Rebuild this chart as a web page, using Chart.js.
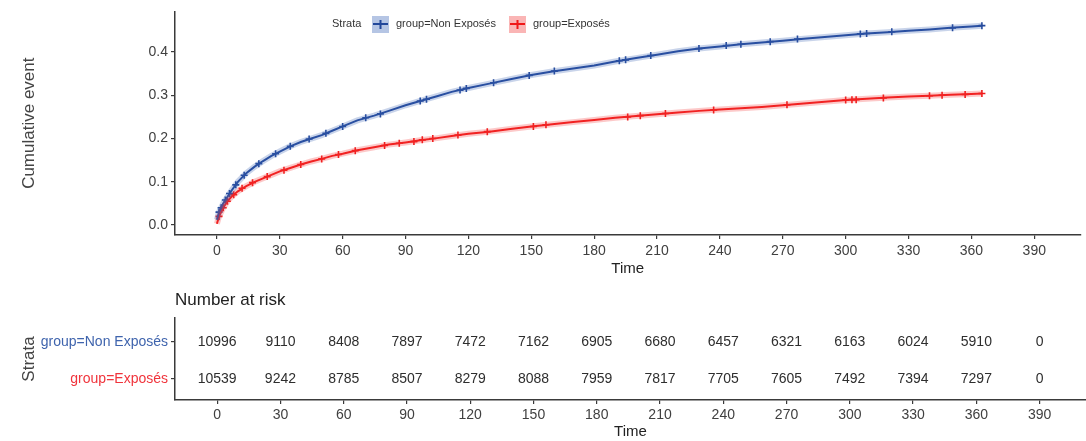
<!DOCTYPE html>
<html>
<head>
<meta charset="utf-8">
<script src="https://cdn.jsdelivr.net/npm/chart.js@4.4.1/dist/chart.umd.min.js"></script>
<style>
  html, body { margin: 0; padding: 0; background: #ffffff; }
  #wrap { position: relative; width: 1086px; height: 441px; overflow: hidden; }
  #c1 { position: absolute; left: 0; top: 0; }
  #c2 { position: absolute; left: 0; top: 280px; }
</style>
</head>
<body>
<div id="wrap">
  <canvas id="c1" width="1086" height="280"></canvas>
  <canvas id="c2" width="1086" height="161"></canvas>
</div>
<script>
// ---- data ----
const times = [0,1,2,3,5,7,10,14,18,22,26,30,35,40,45,50,55,60,67,75,82,90,97,105,112,120,130,140,150,160,170,180,190,200,210,220,230,240,250,260,270,280,290,300,310,320,330,340,350,360,365];
const nonExposes = [0.012,0.03,0.04,0.05,0.065,0.08,0.10,0.12,0.135,0.148,0.16,0.17,0.182,0.192,0.20,0.208,0.218,0.228,0.242,0.253,0.264,0.277,0.287,0.298,0.308,0.317,0.327,0.337,0.347,0.355,0.362,0.369,0.378,0.386,0.394,0.402,0.408,0.413,0.418,0.422,0.426,0.431,0.435,0.439,0.443,0.446,0.449,0.452,0.456,0.459,0.461];
const exposes = [0.003,0.02,0.03,0.04,0.055,0.066,0.078,0.09,0.10,0.108,0.116,0.124,0.132,0.14,0.147,0.153,0.16,0.165,0.173,0.18,0.186,0.191,0.196,0.201,0.206,0.211,0.216,0.222,0.228,0.233,0.238,0.243,0.248,0.252,0.256,0.26,0.264,0.267,0.27,0.273,0.277,0.281,0.285,0.289,0.292,0.295,0.297,0.299,0.301,0.303,0.304];

const censorTimesNon = [1,2,4,6,9,13,20,28,35,44,52,60,71,78,97,100,116,119,132,149,161,192,195,207,230,243,250,264,277,307,310,322,351,365];
const censorValsNon  = [0.03,0.04,0.058,0.073,0.093,0.115,0.142,0.165,0.182,0.199,0.212,0.228,0.248,0.257,0.287,0.291,0.312,0.316,0.329,0.346,0.356,0.380,0.382,0.392,0.408,0.415,0.418,0.424,0.430,0.442,0.443,0.447,0.456,0.461];
const censorTimesExp = [1,3,5,8,12,17,24,32,40,50,58,66,80,87,94,98,103,115,129,151,157,196,202,214,237,272,300,303,305,318,340,346,357,365];
const censorValsExp  = [0.02,0.04,0.055,0.07,0.085,0.098,0.112,0.127,0.14,0.153,0.163,0.172,0.184,0.189,0.193,0.197,0.2,0.208,0.216,0.228,0.232,0.25,0.253,0.258,0.266,0.278,0.289,0.29,0.29,0.294,0.299,0.3,0.302,0.304];

const xTicks = [0,30,60,90,120,150,180,210,240,270,300,330,360,390];
const yTicks = [0,0.1,0.2,0.3,0.4];

const riskTimes = [0,30,60,90,120,150,180,210,240,270,300,330,360,390];
const riskNon = [10996,9110,8408,7897,7472,7162,6905,6680,6457,6321,6163,6024,5910,0];
const riskExp = [10539,9242,8785,8507,8279,8088,7959,7817,7705,7605,7492,7394,7297,0];

const seriesNames = ['group=Non Exposés', 'group=Exposés'];

// ---- styles ----
const BLUE = '#22479a';
const RED = '#f01818';
const BLUE_BAND = 'rgba(60,100,180,0.28)';
const RED_BAND = 'rgba(245,60,60,0.28)';
const BLUE_TXT = '#3f64ad';
const RED_TXT = '#f0343c';
const AXIS = '#3a3a3a';
const TICKTXT = '#404040';
const FONT = "'Liberation Sans', Arial, sans-serif";

const pts = (xs, ys) => xs.map((x, i) => ({ x: x, y: ys[i] }));

const legendPlugin = {
  id: 'strataLegend',
  afterDraw(chart) {
    const ctx = chart.ctx;
    ctx.save();
    ctx.font = '11px ' + FONT;
    ctx.fillStyle = '#333333';
    ctx.textBaseline = 'middle';
    ctx.textAlign = 'left';
    const yc = 24;
    ctx.fillText('Strata', 332, yc);
    const items = [
      { x: 372, band: 'rgba(120,150,205,0.55)', line: BLUE, label: seriesNames[0] },
      { x: 509, band: 'rgba(245,120,120,0.55)', line: RED, label: seriesNames[1] }
    ];
    items.forEach(it => {
      ctx.fillStyle = it.band;
      ctx.fillRect(it.x, yc - 8, 17, 17);
      ctx.strokeStyle = it.line;
      ctx.lineWidth = 2;
      ctx.beginPath();
      ctx.moveTo(it.x + 1, yc); ctx.lineTo(it.x + 16, yc);
      ctx.moveTo(it.x + 8.5, yc - 4); ctx.lineTo(it.x + 8.5, yc + 5);
      ctx.stroke();
      ctx.fillStyle = '#333333';
      ctx.fillText(it.label, it.x + 24, yc);
    });
    ctx.restore();
  }
};

const axisGrid = { display: true, drawOnChartArea: false, drawTicks: true, tickLength: 4, color: AXIS, lineWidth: 1.2 };
const axisBorder = { display: true, color: AXIS, width: 1.5 };

new Chart(document.getElementById('c1'), {
  type: 'scatter',
  data: {
    datasets: [
      { label: 'bandNon', data: pts(times, nonExposes), showLine: true, borderColor: BLUE_BAND, borderWidth: 6, pointRadius: 0, tension: 0 },
      { label: 'bandExp', data: pts(times, exposes), showLine: true, borderColor: RED_BAND, borderWidth: 6, pointRadius: 0, tension: 0 },
      { label: seriesNames[0], data: pts(times, nonExposes), showLine: true, borderColor: BLUE, borderWidth: 2, pointRadius: 0, tension: 0 },
      { label: seriesNames[1], data: pts(times, exposes), showLine: true, borderColor: RED, borderWidth: 2, pointRadius: 0, tension: 0 },
      { label: 'censorNon', data: pts(censorTimesNon, censorValsNon), showLine: false, pointStyle: 'cross', pointRadius: 3.5, borderColor: BLUE, borderWidth: 1.6 },
      { label: 'censorExp', data: pts(censorTimesExp, censorValsExp), showLine: false, pointStyle: 'cross', pointRadius: 3.5, borderColor: RED, borderWidth: 1.6 }
    ]
  },
  options: {
    responsive: false,
    animation: false,
    layout: { padding: { top: 10, right: 0, left: 0, bottom: 0 } },
    plugins: { legend: { display: false }, tooltip: { enabled: false } },
    scales: {
      x: {
        type: 'linear', min: -20, max: 412,
        afterBuildTicks: s => { s.ticks = xTicks.map(v => ({ value: v })); },
        afterFit: s => { s.height = 45; },
        grid: axisGrid, border: axisBorder,
        ticks: { color: TICKTXT, font: { family: FONT, size: 14 }, padding: 4, maxRotation: 0, autoSkip: false },
        title: { display: true, text: 'Time', color: '#222222', font: { family: FONT, size: 15 }, padding: { top: 0, bottom: 2 } }
      },
      y: {
        type: 'linear', min: -0.023, max: 0.494,
        afterBuildTicks: s => { s.ticks = yTicks.map(v => ({ value: v })); },
        afterFit: s => { s.width = 175; },
        grid: axisGrid, border: axisBorder,
        ticks: { color: TICKTXT, font: { family: FONT, size: 14 }, padding: 3, callback: v => v.toFixed(1) },
        title: { display: true, text: 'Cumulative event', color: '#444444', font: { family: FONT, size: 17 }, padding: { top: 19, bottom: 0 } }
      }
    }
  },
  plugins: [legendPlugin]
});

const riskPlugin = {
  id: 'riskText',
  afterDraw(chart) {
    const ctx = chart.ctx;
    const xs = chart.scales.x, ys = chart.scales.y;
    ctx.save();
    ctx.font = '17px ' + FONT;
    ctx.fillStyle = '#222222';
    ctx.textAlign = 'left';
    ctx.textBaseline = 'middle';
    ctx.fillText('Number at risk', 175, 20);
    ctx.font = '14px ' + FONT;
    ctx.fillStyle = '#2e2e2e';
    ctx.textAlign = 'center';
    chart.data.datasets.forEach(ds => {
      ds.data.forEach(p => {
        ctx.fillText(String(p.n), xs.getPixelForValue(p.x), ys.getPixelForValue(p.y));
      });
    });
    ctx.restore();
  }
};

new Chart(document.getElementById('c2'), {
  type: 'scatter',
  data: {
    datasets: [
      { label: seriesNames[0], data: riskTimes.map((t, i) => ({ x: t, y: 2, n: riskNon[i] })), pointRadius: 0 },
      { label: seriesNames[1], data: riskTimes.map((t, i) => ({ x: t, y: 1, n: riskExp[i] })), pointRadius: 0 }
    ]
  },
  options: {
    responsive: false,
    animation: false,
    layout: { padding: { top: 38, right: 0, left: 0, bottom: 0 } },
    plugins: { legend: { display: false }, tooltip: { enabled: false } },
    scales: {
      x: {
        type: 'linear', min: -20, max: 412,
        afterBuildTicks: s => { s.ticks = xTicks.map(v => ({ value: v })); },
        afterFit: s => { s.height = 41; },
        grid: axisGrid, border: axisBorder,
        ticks: { color: TICKTXT, font: { family: FONT, size: 14 }, padding: 3, maxRotation: 0, autoSkip: false },
        title: { display: true, text: 'Time', color: '#222222', font: { family: FONT, size: 15 }, padding: { top: 0, bottom: 0 } }
      },
      y: {
        type: 'linear', min: 0.432, max: 2.649,
        afterBuildTicks: s => { s.ticks = [{ value: 1 }, { value: 2 }]; },
        afterFit: s => { s.width = 175; },
        grid: axisGrid, border: axisBorder,
        ticks: {
          font: { family: FONT, size: 14 }, padding: 3,
          color: c => (c.tick && c.tick.value === 2) ? BLUE_TXT : RED_TXT,
          callback: v => v === 2 ? seriesNames[0] : (v === 1 ? seriesNames[1] : '')
        },
        title: { display: true, text: 'Strata', color: '#444444', font: { family: FONT, size: 17 }, padding: { top: 19, bottom: 0 } }
      }
    }
  },
  plugins: [riskPlugin]
});
</script>
</body>
</html>
